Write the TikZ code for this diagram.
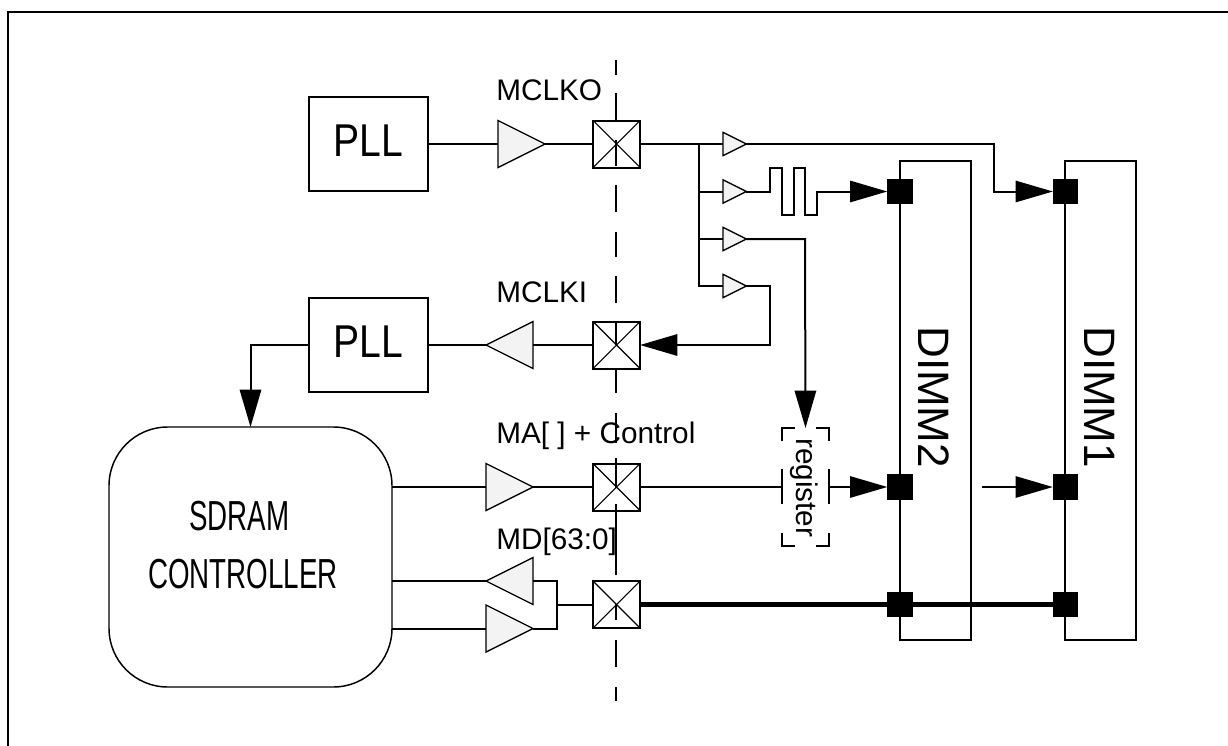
\documentclass[tikz,border=0pt]{standalone}
\usepackage{fontspec}
\setmainfont{Liberation Sans}
\newfontfamily\fuentepll[FakeStretch=0.85]{Liberation Sans}
\newfontfamily\fuentectl[FakeStretch=0.66]{Liberation Sans}
\usepackage{tikz}
\usetikzlibrary{arrows.meta,shapes.geometric}
\definecolor{tinta}{HTML}{000000}
\definecolor{relleno}{HTML}{F3F3F3}
\tikzset{
  arista/.style={draw=tinta,line width=1.5pt},
  flecha/.style={arista,-{Triangle[length=28pt,width=16pt]}},
  bus/.style={draw=tinta,line width=3.3pt},
  corte/.style={draw=tinta,line width=1.6pt},
  bloque/.style={rectangle,draw=tinta,fill=white,line width=1.5pt,inner sep=0pt,outer sep=0pt,minimum width=89.25pt,minimum height=70.5pt,text depth=5pt,font=\fuentepll\fontsize{34.5}{36}\selectfont},
  control/.style={rectangle,draw=tinta,fill=white,line width=1.1pt,rounded corners=44pt,inner sep=0pt,outer sep=0pt,minimum width=212.25pt,minimum height=195pt},
  textoctl/.style={anchor=base,inner sep=0pt,font=\fuentectl\fontsize{31.5}{34}\selectfont},
  modulo/.style={rectangle,draw=tinta,fill=white,line width=1.5pt,inner sep=0pt,outer sep=0pt,minimum width=53.25pt,minimum height=359.25pt},
  textomod/.style={rotate=-90,anchor=base west,inner sep=0pt,font=\fontsize{33}{36}\selectfont},
  pata/.style={rectangle,fill=tinta,inner sep=0pt,outer sep=0pt,minimum size=19pt},
  rotulo/.style={anchor=base west,inner sep=0pt,font=\fontsize{22.3}{24}\selectfont},
  pad/.style={rectangle,draw=tinta,fill=white,line width=1.5pt,inner sep=0pt,outer sep=0pt,minimum size=35.25pt,
    path picture={\draw[tinta,line width=0.8pt] (path picture bounding box.north west) -- (path picture bounding box.south east) (path picture bounding box.north east) -- (path picture bounding box.south west);}},
  bufder/.style={isosceles triangle,isosceles triangle stretches,draw=tinta,fill=relleno,line width=1pt,inner sep=0pt,outer sep=0pt,minimum width=35.25pt,minimum height=35.25pt,anchor=lower side},
  bufizq/.style={bufder,shape border rotate=180},
  bufchico/.style={bufder,minimum width=17.5pt,minimum height=17.5pt},
}
\begin{document}
\begin{tikzpicture}[x=0.75pt,y=-0.75pt]
\useasboundingbox (0,0) rectangle (1228,746);
\draw[arista] (8,746) -- (8,12) -- (1228,12);
\node[bloque] (pll1) at (368.5,144) {PLL};
\node[bloque] (pll2) at (368.5,345) {PLL};
\node[control] (ctl) at (250.5,557) {};
\node[textoctl] (ctl1) at (239.5,530) {SDRAM};
\node[textoctl] (ctl2) at (243,588) {CONTROLLER};
\node[modulo] (dimm2) at (935.5,400.5) {};
\node[modulo] (dimm1) at (1100.5,400.5) {};
\node[textomod] (txt2) at (918,326) {DIMM2};
\node[textomod] (txt1) at (1084,326) {DIMM1};
\node[pad] (pad1) at (616.5,144) {};
\node[pad] (pad2) at (616.5,345) {};
\node[pad] (pad3) at (616.5,487) {};
\node[pad] (pad4) at (616.5,604.5) {};
\node[bufder] (buf1) at (498,144) {};
\node[bufizq] (buf2) at (533,345) {};
\node[bufder] (buf3) at (486,487) {};
\node[bufizq] (buf4) at (533,581) {};
\node[bufder] (buf5) at (486,628.5) {};
\node[bufchico] (ck1) at (723,144) {};
\node[bufchico] (ck2) at (723,191.5) {};
\node[bufchico] (ck3) at (723,239) {};
\node[bufchico] (ck4) at (723,286) {};
\node[pata] (p21) at (900,191.5) {};
\node[pata] (p11) at (1065.5,191.5) {};
\node[pata] (p22) at (900,487) {};
\node[pata] (p12) at (1065.5,487) {};
\node[pata] (p23) at (900,604.5) {};
\node[pata] (p13) at (1065.5,604.5) {};
\node[inner sep=0pt,outer sep=0pt,minimum width=35.25pt,minimum height=88.5pt] (reg) at (805.5,487) {};
\node[rotulo,rotate=-90] (regtxt) at (796,438) {register};
\coordinate (ramal) at (699,144);
\coordinate (union) at (557,604.5);
\coordinate (libre) at (982,487);
\draw[arista] (pll1.east) -- (buf1.lower side);
\draw[arista] (buf1.apex) -- (pad1.west);
\draw[arista] (pad1.east) -- (ck1.lower side);
\draw[arista] (ramal) |- (ck4.lower side);
\draw[arista] (ramal |- ck2.lower side) -- (ck2.lower side);
\draw[arista] (ramal |- ck3.lower side) -- (ck3.lower side);
\draw[flecha] (ck1.apex) -- (994,144) -- (994,191.5) -- (p11.west);
\draw[flecha] (ck2.apex) -- (770,191.5) -- (770,168) -- (782,168) -- (782,215) -- (794,215) -- (794,168) -- (805,168) -- (805,215) -- (817,215) -- (817,191.5) -- (p21.west);
\draw[flecha] (ck3.apex) -- (805,239) -- (reg.north);
\draw[flecha] (ck4.apex) -- (770,286) -- (770,345) -- (pad2.east);
\draw[arista] (pad2.west) -- (buf2.lower side);
\draw[arista] (buf2.apex) -- (pll2.east);
\draw[flecha] (pll2.west) -| (ctl.north);
\draw[arista] (ctl.east |- buf3.lower side) -- (buf3.lower side);
\draw[arista] (buf3.apex) -- (pad3.west);
\draw[arista] (pad3.east) -- (reg.west);
\draw[flecha] (reg.east) -- (p22.west);
\draw[flecha] (libre) -- (p12.west);
\draw[arista] (ctl.east |- buf4.apex) -- (buf4.apex);
\draw[arista] (ctl.east |- buf5.lower side) -- (buf5.lower side);
\draw[arista] (buf4.lower side) -- (558,581) (557,581) -- (557,628.5) (buf5.apex) -- (558,628.5);
\draw[arista] (union) -- (pad4.west);
\draw[bus] (pad4.east) -- (p13.west);
\draw[corte] (616,60) -- (616,75);
\draw[corte] (616,93) -- (616,120);
\draw[corte] (616,140) -- (616,166);
\draw[corte] (616,185) -- (616,212);
\draw[corte] (616,232) -- (616,257);
\draw[corte] (616,276) -- (616,303);
\draw[corte] (616,321) -- (616,345);
\draw[corte] (616,369) -- (616,393);
\draw[corte] (616,413) -- (616,443);
\draw[corte] (616,458) -- (616,488);
\draw[corte] (616,504) -- (616,575);
\draw[corte] (616,604) -- (616,620);
\draw[corte] (616,640) -- (616,667);
\draw[corte] (616,687) -- (616,701);
\draw[arista] (782,441) -- (782,428) -- (795,428);
\draw[arista] (816,428) -- (829,428) -- (829,441);
\draw[arista] (782,469) -- (782,504);
\draw[arista] (829,469) -- (829,504);
\draw[arista] (782,533) -- (782,546) -- (795,546);
\draw[arista] (816,546) -- (829,546) -- (829,533);
\node[rotulo] (mclko) at (496,100) {MCLKO};
\node[rotulo] (mclki) at (496,302) {MCLKI};
\node[rotulo] (ma) at (496,443) {MA[ ] + Control};
\node[rotulo] (md) at (496,549) {MD[63:0]};
\end{tikzpicture}
\end{document}
